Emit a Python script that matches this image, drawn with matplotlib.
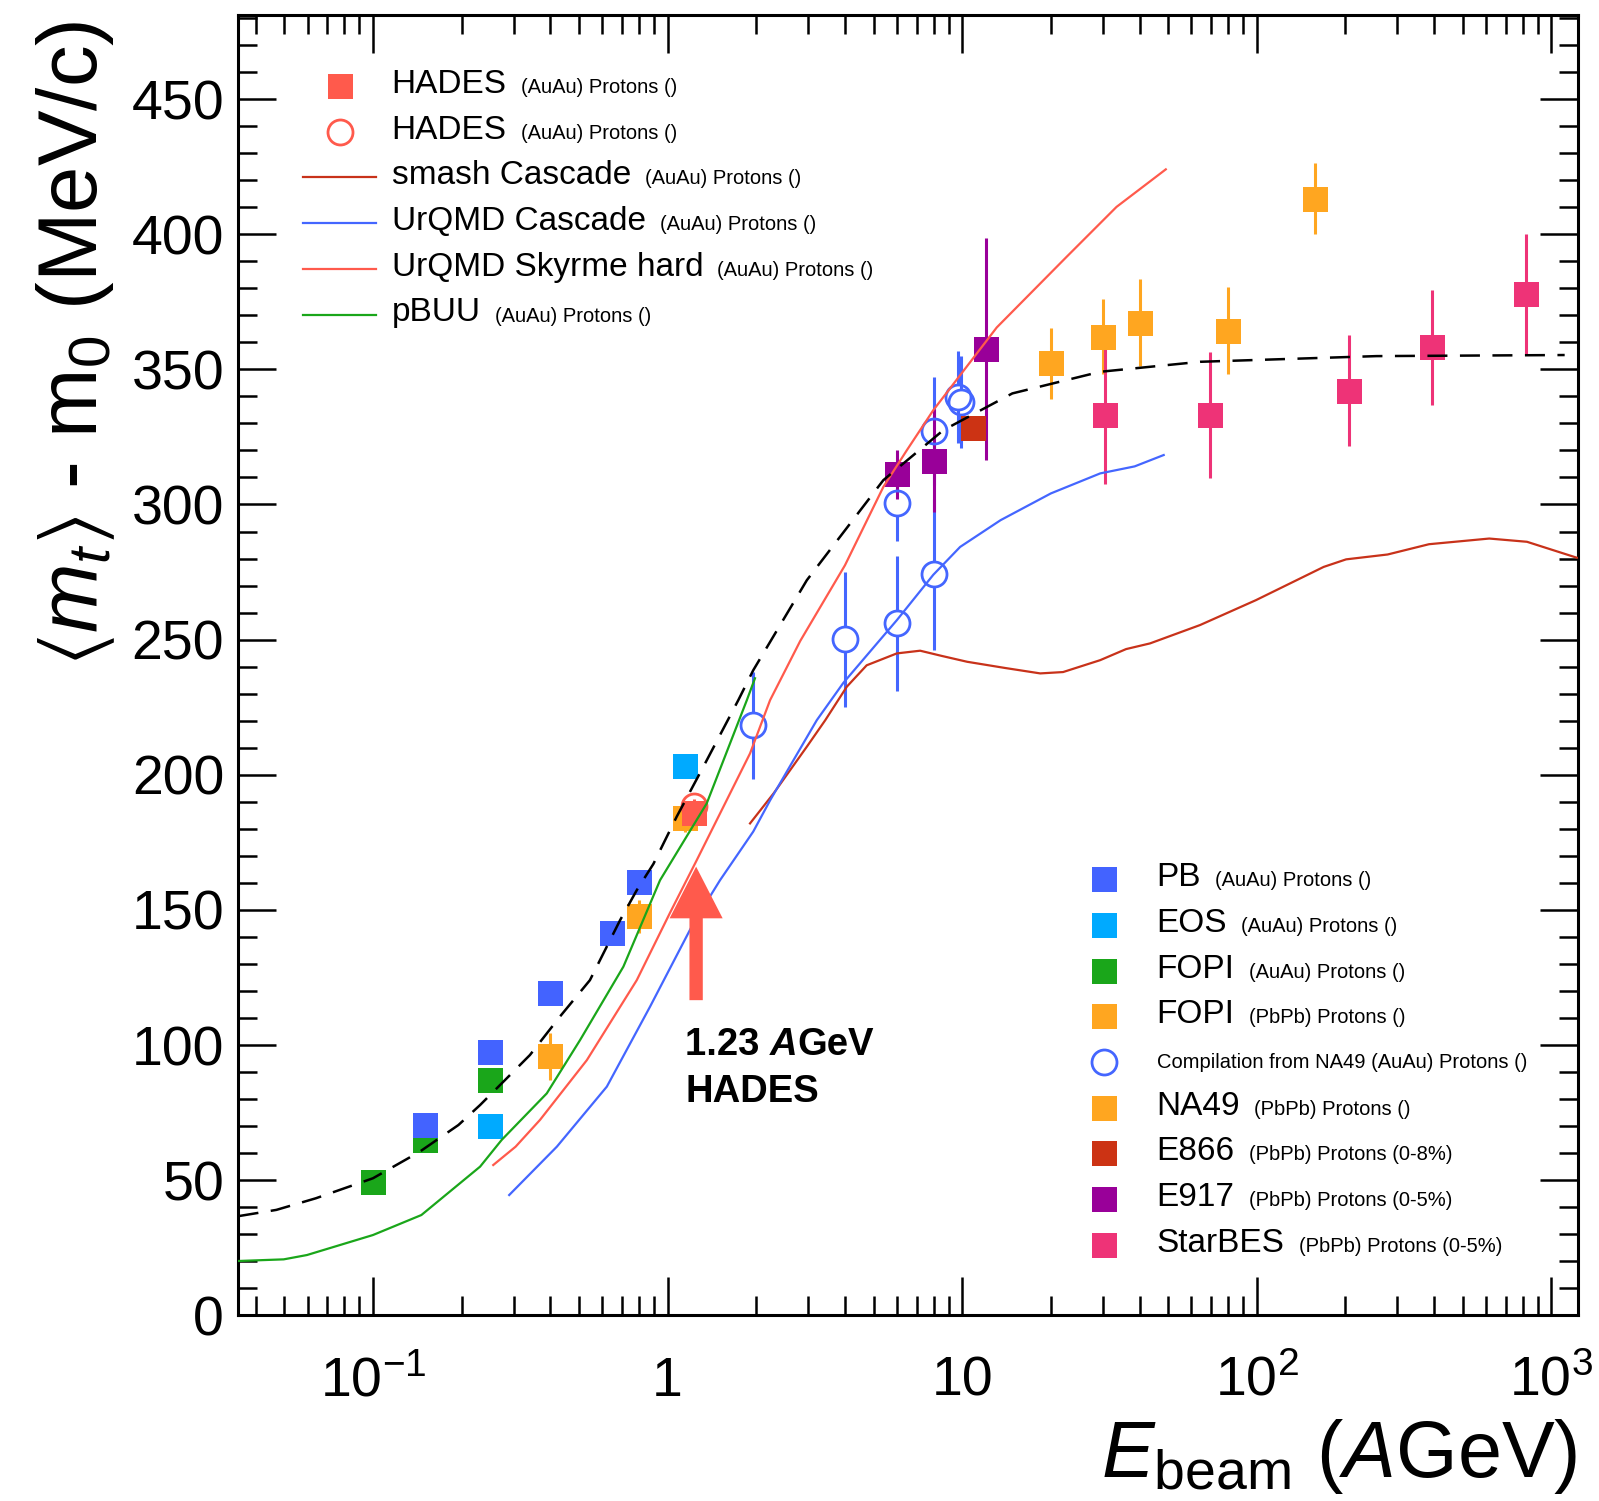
import matplotlib
matplotlib.use('Agg')
import matplotlib.pyplot as plt
from matplotlib.lines import Line2D
from matplotlib.ticker import NullFormatter, MultipleLocator

plt.rcParams['font.family'] = ['Liberation Sans', 'DejaVu Sans']
plt.rcParams['mathtext.fontset'] = 'custom'
plt.rcParams['mathtext.rm'] = 'Liberation Sans'
plt.rcParams['mathtext.it'] = 'Liberation Sans:italic'
plt.rcParams['mathtext.bf'] = 'Liberation Sans:bold'
plt.rcParams['mathtext.fallback'] = 'stixsans'

# ---- data (E in AGeV, <mt>-m0 in MeV/c) ----
hades_e = [1.23]
hades_y = [185.7]
hades_err = [5.5]

hades_open_e = [1.23]
hades_open_y = [188.5]
hades_open_err = [4.0]

pb_e = [0.15, 0.25, 0.4, 0.65, 0.8]
pb_y = [70.4, 97.3, 119.2, 141.3, 160.2]

eos_e = [0.25, 1.15]
eos_y = [70.2, 203.2]

fopi_au_e = [0.1, 0.15, 0.25]
fopi_au_y = [49.2, 65.0, 87.0]

fopi_pb_e = [0.4, 0.8, 1.15]
fopi_pb_y = [95.8, 147.6, 183.9]
fopi_pb_err = [8.7, 6.0, 5.0]

comp_e = [1.95, 4.0, 6.0, 6.0, 8.0, 8.0, 9.7, 9.9]
comp_y = [218.3, 250.2, 300.4, 256.1, 327.3, 274.2, 339.8, 337.8]
comp_err = [19.7, 25.0, 14.0, 25.0, 20.0, 28.0, 17.0, 17.0]

na49_e = [20, 30, 40, 80, 158]
na49_y = [352.2, 362.1, 367.3, 364.3, 413.2]
na49_err = [13, 14, 16, 16, 13]

e866_e = [10.9]
e866_y = [328.2]

e917_e = [6.0, 8.05, 12.0]
e917_y = [311.2, 316.2, 357.6]
e917_err = [9, 19, 41]

star_e = [30.6, 69.4, 206, 394, 821]
star_y = [333.2, 333.2, 342.1, 358.1, 377.8]
star_err = [25.6, 23.3, 20.5, 21.4, 22.3]

smash_e = [1.905, 2.29, 2.97, 3.43, 4.06, 4.74, 6.0, 7.2, 8.5, 10.4, 14.0, 18.4,
           22.0, 29.4, 36.0, 43.4, 64.2, 99.3, 168.6, 201, 278, 384, 615, 826, 1220]
smash_y = [182.0, 193.1, 210.4, 220.2, 232.6, 240.5, 244.9, 245.9, 244.0, 241.8, 239.5, 237.5,
           238.0, 242.4, 246.5, 248.6, 255.4, 264.6, 276.9, 279.7, 281.5, 285.3, 287.4, 286.2, 280.3]

urqmd_e = [0.29, 0.421, 0.622, 0.872, 1.223, 1.507, 1.954, 2.23, 3.21, 3.95, 6.0, 7.98,
           9.84, 13.5, 20.0, 29.4, 38.5, 48.3]
urqmd_y = [44.5, 62.4, 84.6, 114.2, 145.0, 161.0, 179.0, 190.6, 220.2, 234.0, 257.2, 274.0,
           284.3, 294.2, 304.1, 311.5, 314.1, 318.3]

skyrme_e = [0.256, 0.305, 0.369, 0.532, 0.786, 1.02, 1.256, 1.905, 2.228, 2.82, 4.0, 5.4,
            6.49, 7.98, 13.1, 22.6, 33.4, 49.1]
skyrme_y = [55.6, 62.4, 72.3, 94.4, 124.0, 149.0, 168.4, 207.9, 227.6, 249.5, 277.5, 306.5,
            320.1, 334.9, 365.5, 391.6, 410.1, 424.0]

pbuu_e = [0.0351, 0.0498, 0.0597, 0.1, 0.146, 0.231, 0.2735, 0.389, 0.505, 0.708, 0.943,
          1.358, 1.858, 1.98]
pbuu_y = [20.1, 20.7, 22.3, 29.7, 37.1, 55.0, 64.9, 82.1, 101.9, 129.0, 161.0,
          189.4, 227.6, 235.7]

fit_e = [0.035, 0.047, 0.064, 0.1, 0.144, 0.195, 0.231, 0.27, 0.341, 0.431, 0.545, 0.69,
         0.786, 0.895, 1.074, 1.323, 1.738, 1.954, 2.97, 5.4, 8.63, 14.8, 29.4, 64.2, 255, 1109]
fit_y = [36.7, 39.0, 43.3, 50.7, 60.5, 70.4, 77.8, 85.2, 96.3, 110.5, 124.0, 146.2,
         157.3, 167.0, 184.5, 203.0, 227.6, 238.7, 272.0, 309.0, 327.5, 341.1, 349.1, 352.8,
         354.9, 355.3]

# ---- colours ----
c_hades = '#ff5a4c'
c_smash = '#c8321a'
c_blue = '#4466ff'
c_pb = '#4363ff'
c_eos = '#00aaff'
c_green = '#1aa61a'
c_orange = '#ffa620'
c_e866 = '#cc3314'
c_e917 = '#990099'
c_star = '#ee3377'

W, H = 1599, 1501
fig = plt.figure(figsize=(W / 100, H / 100), dpi=100)
ax = fig.add_axes([237.9 / W, 1 - 1315.3 / H, (1577.6 - 237.9) / W, 1300.0 / H])
ax.set_xscale('log')
ax.set_xlim(0.0348, 1227)
ax.set_ylim(0, 481)

MS = 18
circle_gap = 4.6  # marker radius in data units, keeps bars outside open circles


def squares(e, y, color, err=None):
    if err is not None:
        ax.errorbar(e, y, yerr=err, fmt='none', ecolor=color, elinewidth=2.2,
                    capsize=0, zorder=3)
    ax.plot(e, y, 's', ms=MS, color=color, mec=color, mew=0, zorder=4)


def circles(e, y, color, err):
    for xi, yi, ei in zip(e, y, err):
        if ei > circle_gap:
            ax.vlines([xi, xi], [yi + circle_gap, yi - ei], [yi + ei, yi - circle_gap],
                      color=color, lw=2.2, zorder=3)
    ax.plot(e, y, 'o', ms=MS, mfc='none', mec=color, mew=2.0, zorder=4)


squares(fopi_au_e, fopi_au_y, c_green)
squares(fopi_pb_e, fopi_pb_y, c_orange, fopi_pb_err)
squares(eos_e, eos_y, c_eos)
squares(pb_e, pb_y, c_pb)
circles(comp_e, comp_y, c_blue, comp_err)
squares(na49_e, na49_y, c_orange, na49_err)
squares(e866_e, e866_y, c_e866)
squares(e917_e, e917_y, c_e917, e917_err)
squares(star_e, star_y, c_star, star_err)
circles(hades_open_e, hades_open_y, c_hades, hades_open_err)
squares(hades_e, hades_y, c_hades, hades_err)

# model curves
ax.plot(smash_e, smash_y, color=c_smash, lw=1.6, zorder=5)
ax.plot(urqmd_e, urqmd_y, color=c_blue, lw=1.6, zorder=5)
ax.plot(skyrme_e, skyrme_y, color=c_hades, lw=1.6, zorder=5)
ax.plot(pbuu_e, pbuu_y, color=c_green, lw=1.6, zorder=5)
ax.plot(fit_e, fit_y, color='black', lw=1.8, ls=(0, (8, 5)), zorder=6)

# HADES arrow at 1.23 AGeV
ax.annotate('', xy=(1.25, 166), xytext=(1.25, 116.6),
            arrowprops=dict(arrowstyle='simple,head_length=1.86,head_width=1.91,tail_width=0.48',
                            mutation_scale=20, color=c_hades, shrinkA=0, shrinkB=0, lw=0),
            zorder=7)

# axes style (ROOT like)
ax.set_xticks([0.1, 1, 10, 100, 1000],
              labels=[r'$10^{-1}$', '1', '10', r'$10^{2}$', r'$10^{3}$'])
minor = [m * 10.0 ** k for k in range(-2, 3) for m in range(2, 10)]
ax.set_xticks([v for v in minor if 0.0348 < v < 1227], minor=True)
ax.xaxis.set_minor_formatter(NullFormatter())
ax.yaxis.set_major_locator(MultipleLocator(50))
ax.yaxis.set_minor_locator(MultipleLocator(10))
ax.tick_params(which='both', direction='in', top=True, right=True, width=1.8)
ax.tick_params(which='major', length=27.5)
ax.tick_params(which='minor', length=13.7)
ax.tick_params(axis='x', which='major', labelsize=40, pad=58)
ax.tick_params(axis='y', which='major', labelsize=40, pad=10)
for lab in ax.get_xticklabels():
    lab.set_va('baseline')
for sp in ax.spines.values():
    sp.set_linewidth(2.2)

ax.set_xlabel(r'$E_{\rm beam}$ ($A$GeV)', fontsize=57, loc='right')
ax.xaxis.set_label_coords(1.0, -0.1242)
ax.xaxis.label.set_va('baseline')
ax.set_ylabel(r'$\langle m_{t}\rangle$ - m$_{0}$ (MeV/c)', fontsize=60, loc='top')
ax.yaxis.set_label_coords(-0.1052, 0.996)
ax.yaxis.label.set_va('baseline')

renderer = fig.canvas.get_renderer()


def fx(x):
    return x / W


def fy(y):
    return 1 - y / H


def pieces(x, y, parts):
    # parts: list of (text, kwargs, gap_after_px)
    for txt, kw, gap in parts:
        t = fig.text(fx(x), fy(y), txt, va='baseline', ha='left', **kw)
        bb = t.get_window_extent(renderer)
        x = bb.x1 + gap


def legend_entry(xm, xt, yc, kind, color, name, extra):
    if kind == 'line':
        fig.add_artist(Line2D([fx(xm - 36.5), fx(xm + 36.5)], [fy(yc), fy(yc)],
                              color=color, lw=1.6, transform=fig.transFigure))
    elif kind == 'circle':
        fig.add_artist(Line2D([fx(xm)], [fy(yc)], marker='o', ms=MS, mfc='none',
                              mec=color, mew=2.0, transform=fig.transFigure))
    else:
        fig.add_artist(Line2D([fx(xm)], [fy(yc)], marker='s', ms=MS, color=color,
                              mew=0, transform=fig.transFigure))
    if name:
        pieces(xt, yc + 7, [(name, dict(fontsize=24), 14),
                            (extra, dict(fontsize=14.5), 0)])
    else:
        pieces(xt, yc + 6, [(extra, dict(fontsize=14.5), 0)])


top_rows = [('square', c_hades, 'HADES', '(AuAu) Protons ()'),
            ('circle', c_hades, 'HADES', '(AuAu) Protons ()'),
            ('line', c_smash, 'smash Cascade', '(AuAu) Protons ()'),
            ('line', c_blue, 'UrQMD Cascade', '(AuAu) Protons ()'),
            ('line', c_hades, 'UrQMD Skyrme hard', '(AuAu) Protons ()'),
            ('line', c_green, 'pBUU', '(AuAu) Protons ()')]
for i, (kind, col, name, extra) in enumerate(top_rows):
    legend_entry(339.5, 391.6, 86.0 + 45.7 * i, kind, col, name, extra)

bottom_rows = [('square', c_pb, 'PB', '(AuAu) Protons ()'),
               ('square', c_eos, 'EOS', '(AuAu) Protons ()'),
               ('square', c_green, 'FOPI', '(AuAu) Protons ()'),
               ('square', c_orange, 'FOPI', '(PbPb) Protons ()'),
               ('circle', c_blue, '', 'Compilation from NA49 (AuAu) Protons ()'),
               ('square', c_orange, 'NA49', '(PbPb) Protons ()'),
               ('square', c_e866, 'E866', '(PbPb) Protons (0-8%)'),
               ('square', c_e917, 'E917', '(PbPb) Protons (0-5%)'),
               ('square', c_star, 'StarBES', '(PbPb) Protons (0-5%)')]
for i, (kind, col, name, extra) in enumerate(bottom_rows):
    legend_entry(1103.5, 1156.7, 879.2 + 45.7 * i, kind, col, name, extra)

# annotation text
pieces(685, 1055, [('1.23 ', dict(fontsize=27.5, fontweight='bold'), 0),
                   ('A', dict(fontsize=27.5, fontweight='bold', style='italic'), 0),
                   ('GeV', dict(fontsize=27.5, fontweight='bold'), 0)])
pieces(685, 1101.7, [('HADES', dict(fontsize=27.5, fontweight='bold'), 0)])

fig.savefig('out.png', dpi=100)
